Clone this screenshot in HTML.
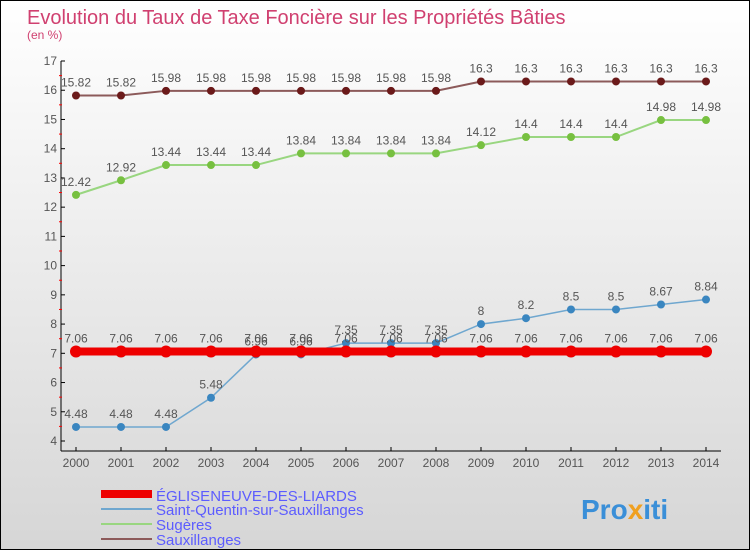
<!DOCTYPE html>
<html><head><meta charset="utf-8"><style>
html,body{margin:0;padding:0}
body{width:750px;height:550px;overflow:hidden;font-family:"Liberation Sans",sans-serif}
#wrap{position:relative;width:748px;height:548px;border:1px solid #000;background:linear-gradient(#ffffff,#d6d6d6)}
</style></head><body>
<div id="wrap">
<svg id="chart" width="748" height="548" xmlns="http://www.w3.org/2000/svg">
<text x="26" y="23" font-size="20" fill="#d04070">Evolution du Taux de Taxe Foncière sur les Propriétés Bâties</text>
<text x="26" y="38" font-size="12" fill="#d04070">(en %)</text>
<g id="axes"></g>
<g id="series"></g>
<g id="legend">
<rect x="100" y="489" width="51" height="8" fill="#ee0000"/>
<text x="155" y="500" font-size="15" fill="#5c5cff">ÉGLISENEUVE-DES-LIARDS</text>
<rect x="100" y="507" width="51" height="2" fill="#6fa7cf"/>
<text x="155" y="514" font-size="15" fill="#5c5cff">Saint-Quentin-sur-Sauxillanges</text>
<rect x="100" y="522" width="51" height="2" fill="#99d680"/>
<text x="155" y="529" font-size="15" fill="#5c5cff">Sugères</text>
<rect x="100" y="537" width="51" height="2" fill="#8c5a5a"/>
<text x="155" y="544" font-size="15" fill="#5c5cff">Sauxillanges</text>
</g>
<text x="580" y="518" font-size="28" font-weight="bold" fill="#3a8fd8">Pro<tspan fill="#f0a020">x</tspan><tspan fill="#3a8fd8">iti</tspan></text>
</svg>
</div>
<script>
const years=[2000,2001,2002,2003,2004,2005,2006,2007,2008,2009,2010,2011,2012,2013,2014];
const yTicks=[4,5,6,7,8,9,10,11,12,13,14,15,16,17];
const egliseneuve=[7.06,7.06,7.06,7.06,7.06,7.06,7.06,7.06,7.06,7.06,7.06,7.06,7.06,7.06,7.06];
const saintQuentin=[4.48,4.48,4.48,5.48,6.96,6.96,7.35,7.35,7.35,8,8.2,8.5,8.5,8.67,8.84];
const sugeres=[12.42,12.92,13.44,13.44,13.44,13.84,13.84,13.84,13.84,14.12,14.4,14.4,14.4,14.98,14.98];
const sauxillanges=[15.82,15.82,15.98,15.98,15.98,15.98,15.98,15.98,15.98,16.3,16.3,16.3,16.3,16.3,16.3];
const NS="http://www.w3.org/2000/svg";
const x=i=>75+i*45;
const y=v=>440-(v-4)*(380/13);
function mk(tag,attrs,parent){const e=document.createElementNS(NS,tag);for(const k in attrs)e.setAttribute(k,attrs[k]);parent.appendChild(e);return e;}
const axes=document.getElementById('axes');
let e=mk('line',{x1:60,y1:y(17),x2:60,y2:450,stroke:'#000','stroke-width':1},axes);

e=mk('line',{x1:60,y1:450,x2:720,y2:450,stroke:'#000','stroke-width':1},axes);

yTicks.forEach(t=>{
  mk('line',{x1:60,y1:y(t),x2:64,y2:y(t),stroke:'#000'},axes);
  if(t<17)mk('line',{x1:58,y1:y(t+0.5),x2:61,y2:y(t+0.5),stroke:'#f00'},axes);
  const tx=mk('text',{x:56,y:y(t)+4,'font-size':12,'text-anchor':'end',fill:'#555'},axes);
  tx.textContent=t;
  
  
});
years.forEach((yr,i)=>{
  mk('line',{x1:x(i),y1:446,x2:x(i),y2:450,stroke:'#000'},axes);
  const tx=mk('text',{x:x(i),y:466,'font-size':12,'text-anchor':'middle',fill:'#555'},axes);
  tx.textContent=yr;
  
  
});
const sg=document.getElementById('series');
function draw(vals,color,dot,width,r,name){
  const g=mk('g',{},sg);
  
  
  mk('polyline',{points:vals.map((v,i)=>x(i)+','+y(v)).join(' '),fill:'none',stroke:color,'stroke-width':width},g);
  vals.forEach((v,i)=>{
    const c=mk('circle',{cx:x(i),cy:y(v),r:r,fill:dot},g);
    
    
    const t=mk('text',{x:x(i),y:y(v)-9,'font-size':12,'text-anchor':'middle',fill:'#555'},g);
    t.textContent=String(v);
    
    
  });
}
draw(sauxillanges,'#8c5a5a','#6b1a1a',2,4,'sauxillanges');
draw(sugeres,'#99d680','#77c040',2,4,'sugeres');
draw(saintQuentin,'#6fa7cf','#3a86c0',1.5,4,'saint-quentin');
draw(egliseneuve,'#ee0000','#ee0000',8,6,'egliseneuve');
</script>
</body></html>
